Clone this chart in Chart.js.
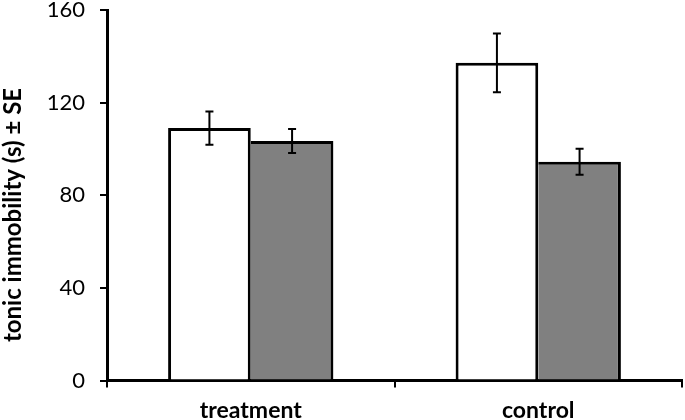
<!DOCTYPE html>
<html>
<head>
<meta charset="utf-8">
<script src="https://cdn.jsdelivr.net/npm/chart.js@4"></script>
<style>
  body { margin: 0; background: #fff; }
  canvas { display: block; }
</style>
</head>
<body>
<canvas id="chart" width="685" height="420"></canvas>
<script>
const categories = ['treatment', 'control'];
const whiteMeans = [109, 137.2];
const whiteSE = [7.2, 12.7];
const grayMeans = [103.4, 94.5];
const graySE = [5.2, 5.6];
const yTicks = [0, 40, 80, 120, 160];
const yTitle = 'tonic immobility (s) ± SE';

const FONT = 'Lato, "Open Sans", sans-serif';
const errors = [whiteSE, graySE];

// error bars drawn from the y scale
const errorBars = {
  id: 'errorBars',
  afterDatasetsDraw(chart) {
    const ctx = chart.ctx;
    const y = chart.scales.y;
    chart.data.datasets.forEach((ds, di) => {
      const meta = chart.getDatasetMeta(di);
      meta.data.forEach((bar, i) => {
        const v = ds.data[i];
        const se = errors[di][i];
        const top = y.getPixelForValue(v + se);
        const bot = y.getPixelForValue(v - se);
        ctx.save();
        ctx.strokeStyle = '#000';
        ctx.lineWidth = 2;
        ctx.beginPath();
        ctx.moveTo(bar.x, top); ctx.lineTo(bar.x, bot);
        ctx.moveTo(bar.x - 4, top); ctx.lineTo(bar.x + 4, top);
        ctx.moveTo(bar.x - 4, bot); ctx.lineTo(bar.x + 4, bot);
        ctx.stroke();
        ctx.restore();
      });
    });
  }
};

// rotated y title, centred on the whole canvas height like the original
const yAxisTitle = {
  id: 'yAxisTitle',
  afterDraw(chart) {
    const ctx = chart.ctx;
    ctx.save();
    ctx.translate(13, 215);
    ctx.rotate(-Math.PI / 2);
    ctx.font = 'bold 24px ' + FONT;
    ctx.fillStyle = '#000';
    ctx.textAlign = 'center';
    ctx.textBaseline = 'middle';
    ctx.fillText(yTitle, 0, 0);
    ctx.restore();
  }
};

new Chart(document.getElementById('chart'), {
  type: 'bar',
  data: {
    labels: categories,
    datasets: [
      {
        data: whiteMeans,
        backgroundColor: '#ffffff',
        borderColor: '#000',
        borderWidth: { top: 3, left: 3, right: 3, bottom: 0 }
      },
      {
        data: grayMeans,
        backgroundColor: '#808080',
        borderColor: '#000',
        borderWidth: { top: 3, left: 0, right: 3, bottom: 0 }
      }
    ]
  },
  options: {
    responsive: false,
    animation: false,
    layout: { padding: { top: 0, right: 3, left: 0, bottom: 0 } },
    plugins: {
      legend: { display: false },
      tooltip: { enabled: false }
    },
    datasets: {
      bar: { categoryPercentage: 0.575, barPercentage: 1.0 }
    },
    scales: {
      x: {
        afterFit(scale) { scale.height = 39.5; scale.paddingLeft = 0; scale.paddingRight = 0; },
        grid: {
          offset: true,
          drawOnChartArea: false,
          drawTicks: true,
          tickLength: 7,
          color: '#000',
          lineWidth: 2
        },
        border: { color: '#000', width: 3 },
        ticks: {
          color: '#000',
          padding: 9,
          font: { family: FONT, size: 23, weight: 'bold' }
        }
      },
      y: {
        min: 0,
        max: 160,
        afterFit(scale) { scale.width = 107; scale.paddingTop = 10; scale.paddingBottom = 0; },
        afterBuildTicks(scale) { scale.ticks = yTicks.map(v => ({ value: v })); },
        grid: {
          drawOnChartArea: false,
          drawTicks: true,
          tickLength: 7,
          color: '#000',
          lineWidth: 2
        },
        border: { color: '#000', width: 3 },
        ticks: {
          color: '#000',
          padding: 15,
          font: { family: FONT, size: 22 }
        }
      }
    }
  },
  plugins: [errorBars, yAxisTitle]
});
</script>
</body>
</html>
